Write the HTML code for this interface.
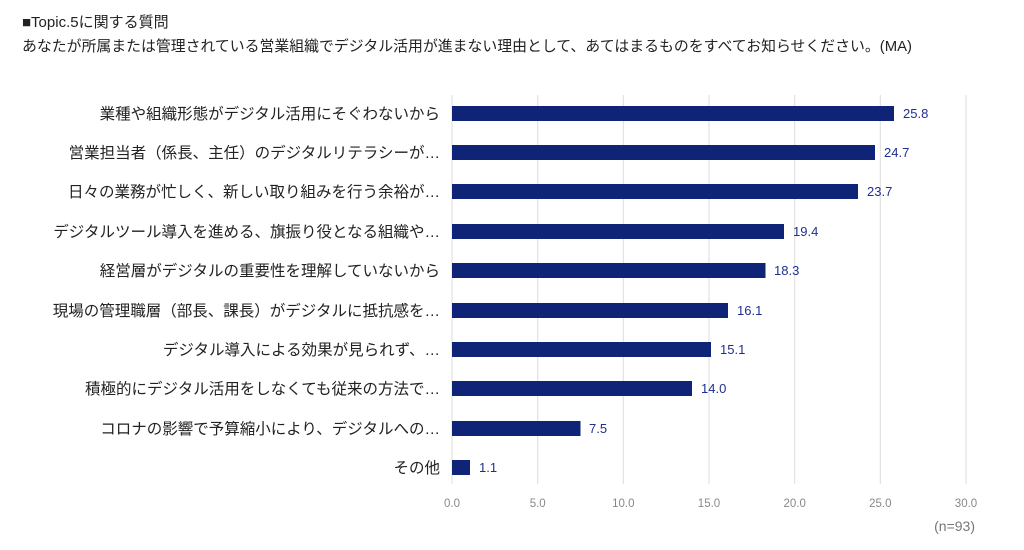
<!DOCTYPE html>
<html><head><meta charset="utf-8"><style>
html,body{margin:0;padding:0;background:#fff;}
svg{display:block;font-family:"Liberation Sans","Noto Sans CJK JP",sans-serif;}
</style></head><body>
<svg width="1024" height="550" xmlns="http://www.w3.org/2000/svg">
<text x="22" y="27" font-size="15" fill="#222">■Topic.5に関する質問</text>
<text x="22" y="51" font-size="14.7" fill="#222" textLength="890" lengthAdjust="spacingAndGlyphs">あなたが所属または管理されている営業組織でデジタル活用が進まない理由として、あてはまるものをすべてお知らせください。(MA)</text>
<g stroke="#dcdcdc" stroke-width="1">
<line x1="452" y1="95" x2="452" y2="484"/>
<line x1="537.7" y1="95" x2="537.7" y2="484"/>
<line x1="623.3" y1="95" x2="623.3" y2="484"/>
<line x1="709" y1="95" x2="709" y2="484"/>
<line x1="794.7" y1="95" x2="794.7" y2="484"/>
<line x1="880.3" y1="95" x2="880.3" y2="484"/>
<line x1="966" y1="95" x2="966" y2="484"/>
</g>
<g font-size="11.5" fill="#888" text-anchor="middle">
<text x="452" y="507">0.0</text><text x="537.7" y="507">5.0</text><text x="623.3" y="507">10.0</text>
<text x="709" y="507">15.0</text><text x="794.7" y="507">20.0</text><text x="880.3" y="507">25.0</text><text x="966" y="507">30.0</text>
</g>
<text x="975" y="531" font-size="14" fill="#777" text-anchor="end">(n=93)</text>
<g font-size="15.5" fill="#222" text-anchor="end">
<text x="440" y="119">業種や組織形態がデジタル活用にそぐわないから</text>
<text x="440" y="158">営業担当者（係長、主任）のデジタルリテラシーが…</text>
<text x="440" y="197">日々の業務が忙しく、新しい取り組みを行う余裕が…</text>
<text x="440" y="237">デジタルツール導入を進める、旗振り役となる組織や…</text>
<text x="440" y="276">経営層がデジタルの重要性を理解していないから</text>
<text x="440" y="316">現場の管理職層（部長、課長）がデジタルに抵抗感を…</text>
<text x="440" y="355">デジタル導入による効果が見られず、…</text>
<text x="440" y="394">積極的にデジタル活用をしなくても従来の方法で…</text>
<text x="440" y="434">コロナの影響で予算縮小により、デジタルへの…</text>
<text x="440" y="473">その他</text>
</g>
<g fill="#0f2377">
<rect x="452" y="106" width="442" height="15"/>
<rect x="452" y="145" width="423" height="15"/>
<rect x="452" y="184" width="406" height="15"/>
<rect x="452" y="224" width="332" height="15"/>
<rect x="452" y="263" width="313.5" height="15"/>
<rect x="452" y="303" width="276" height="15"/>
<rect x="452" y="342" width="259" height="15"/>
<rect x="452" y="381" width="240" height="15"/>
<rect x="452" y="421" width="128.5" height="15"/>
<rect x="452" y="460" width="18" height="15"/>
</g>
<g font-size="13" fill="#1f2f8f">
<text x="903" y="118">25.8</text>
<text x="884" y="157">24.7</text>
<text x="867" y="196">23.7</text>
<text x="793" y="236">19.4</text>
<text x="774" y="275">18.3</text>
<text x="737" y="315">16.1</text>
<text x="720" y="354">15.1</text>
<text x="701" y="393">14.0</text>
<text x="589" y="433">7.5</text>
<text x="479" y="472">1.1</text>
</g>
</svg>
</body></html>
